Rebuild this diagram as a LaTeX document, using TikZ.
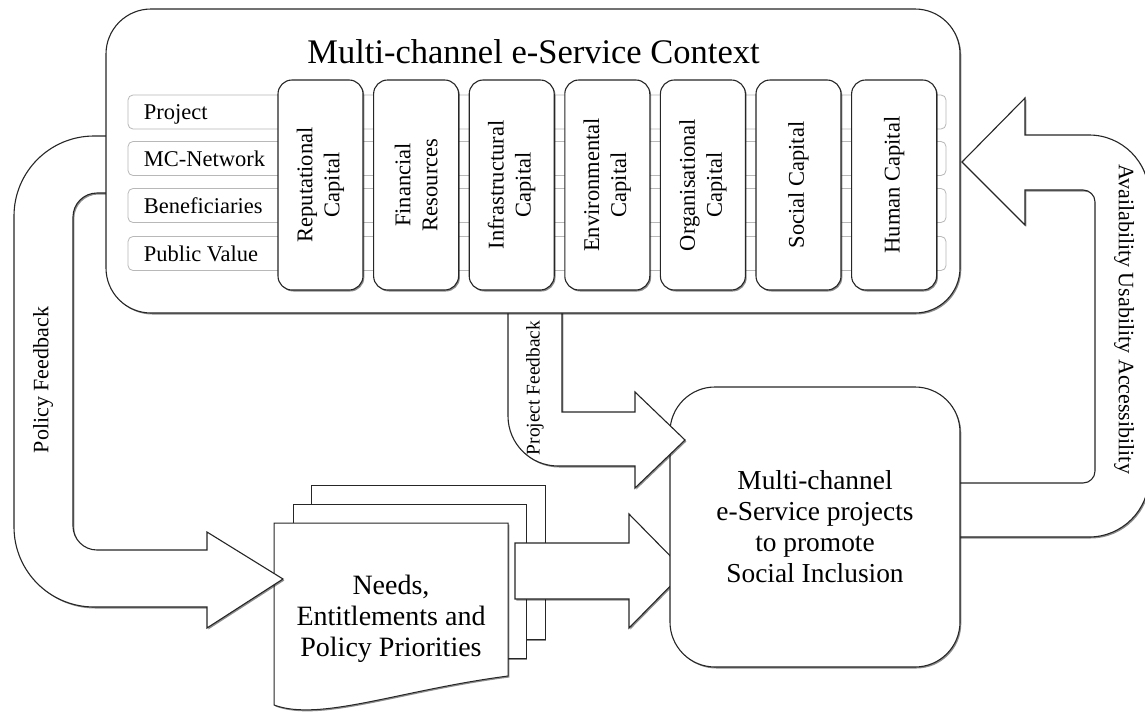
\documentclass[tikz,border=0pt]{standalone}
\usepackage{fontspec}
\setmainfont{Liberation Serif}
\usetikzlibrary{shadows}

\begin{document}
\begin{tikzpicture}[x=1pt,y=1pt,
  line/.style={draw=black!85, line width=1.1pt},
  shade/.style={drop shadow={shadow xshift=1.3pt,shadow yshift=-1.5pt,opacity=0.45,fill=black}},
  frame/.style={line, fill=white, rounded corners=45pt, shade, inner sep=0pt},
  rowbox/.style={draw=black!28, line width=0.8pt, fill=white, rounded corners=5pt,
    minimum width=818pt, minimum height=34pt, inner sep=0pt},
  rowtext/.style={anchor=west, inner sep=0pt, font=\fontsize{22.5}{26}\selectfont,
    text height=15pt, text depth=0pt},
  capbox/.style={line, fill=white, rounded corners=14pt, minimum width=210pt,
    minimum height=85pt, rotate=90, align=center, inner sep=0pt,
    font=\fontsize{22.5}{27}\selectfont, shade},
  projbox/.style={line, fill=white, rounded corners=45pt, minimum width=290pt,
    minimum height=280pt, align=center, inner sep=0pt,
    font=\fontsize{27.4}{31}\selectfont, shade},
  bigarrow/.style={line, fill=white, line join=miter, shade},
  page/.style={line, fill=white, line width=1pt, shade},
  arrowtext/.style={font=\fontsize{22}{26}\selectfont, inner sep=0pt},
]
\useasboundingbox (0,-715) rectangle (1145,0);

% stacked pages: needs, entitlements and policy priorities
\path[page] (311,-485) rectangle (545,-639);
\path[page] (293,-504) rectangle (526,-658);
\path[page] (274,-523) -- (508,-523) -- (508,-676)
  .. controls (400,-690) and (320,-722) .. (274,-705) -- cycle;
\node[align=center, font=\fontsize{28}{31}\selectfont] (needs) at (391,-619)
  {Needs,\\Entitlements and\\Policy Priorities};

% straight block arrow towards the projects
\path[bigarrow] (515,-543) -- (629,-543) -- (629,-514) -- (685,-571)
  -- (629,-628) -- (629,-599) -- (515,-599) -- cycle;

% availability / usability / accessibility return arrow
\path[bigarrow] (958,-483) -- (1083,-483) arc[start angle=270,end angle=360,radius=12]
  -- (1095,-202) arc[start angle=0,end angle=90,radius=12]
  -- (1025,-190) -- (1025,-225) -- (962,-162) -- (1025,-98) -- (1025,-135)
  -- (1089,-135) arc[start angle=90,end angle=0,radius=60]
  -- (1149,-477) arc[start angle=0,end angle=-90,radius=60]
  -- (958,-537);

% projects box
\node[projbox] (proj) at (815,-527)
  {Multi-channel\\e-Service projects\\to promote\\Social Inclusion};

% project feedback arrow
\path[bigarrow] (508,-305) -- (508,-416) arc[start angle=180,end angle=270,radius=50]
  -- (635,-466) -- (635,-488) -- (685,-440) -- (635,-392) -- (635,-412)
  -- (562,-412) -- (562,-305);

% policy feedback arrow
\path[bigarrow] (112,-136) -- (94,-136) arc[start angle=90,end angle=180,radius=80]
  -- (14,-527) arc[start angle=180,end angle=270,radius=80]
  -- (207,-607) -- (207,-628) -- (283,-579) -- (207,-532) -- (207,-550)
  -- (97,-550) arc[start angle=270,end angle=180,radius=24]
  -- (73,-217) arc[start angle=180,end angle=90,radius=24]
  -- (112,-193);

% context frame
\node[frame, minimum width=854pt, minimum height=304pt] (ctx) at (533,-161) {};
\node[anchor=base, font=\fontsize{34.5}{40}\selectfont] (title) at (533.5,-63)
  {Multi-channel e-Service Context};

% rows
\node[rowbox] (rproject) at (537,-112) {};
\node[rowbox] (rnetwork) at (537,-158.5) {};
\node[rowbox] (rbenef)   at (537,-205.5) {};
\node[rowbox] (rvalue)   at (537,-253.5) {};
\node[rowtext] (tproject) at ([xshift=16pt]rproject.west) {Project};
\node[rowtext] (tnetwork) at ([xshift=16pt]rnetwork.west) {MC-Network};
\node[rowtext] (tbenef)   at ([xshift=16pt]rbenef.west) {Beneficiaries};
\node[rowtext] (tvalue)   at ([xshift=16pt]rvalue.west) {Public Value};

% capitals
\node[capbox] (crep) at (320.5,-185) {Reputational\\Capital};
\node[capbox] (cfin) at (416.1,-185) {Financial\\Resources};
\node[capbox] (cinf) at (511.7,-185) {Infrastructural\\Capital};
\node[capbox] (cenv) at (607.3,-185) {Environmental\\Capital};
\node[capbox] (corg) at (702.9,-185) {Organisational\\Capital};
\node[capbox] (csoc) at (798.5,-185) {Social Capital};
\node[capbox] (chum) at (894.1,-185) {Human Capital};

% arrow labels
\node[arrowtext, rotate=90] (policyfb) at (43,-380) {Policy Feedback};
\node[arrowtext, rotate=90, font=\fontsize{19.4}{22}\selectfont] (projectfb) at (535,-388) {Project Feedback};
\node[arrowtext, rotate=-90] (aua) at (1124,-319) {Availability Usability Accessibility};
\end{tikzpicture}
\end{document}
